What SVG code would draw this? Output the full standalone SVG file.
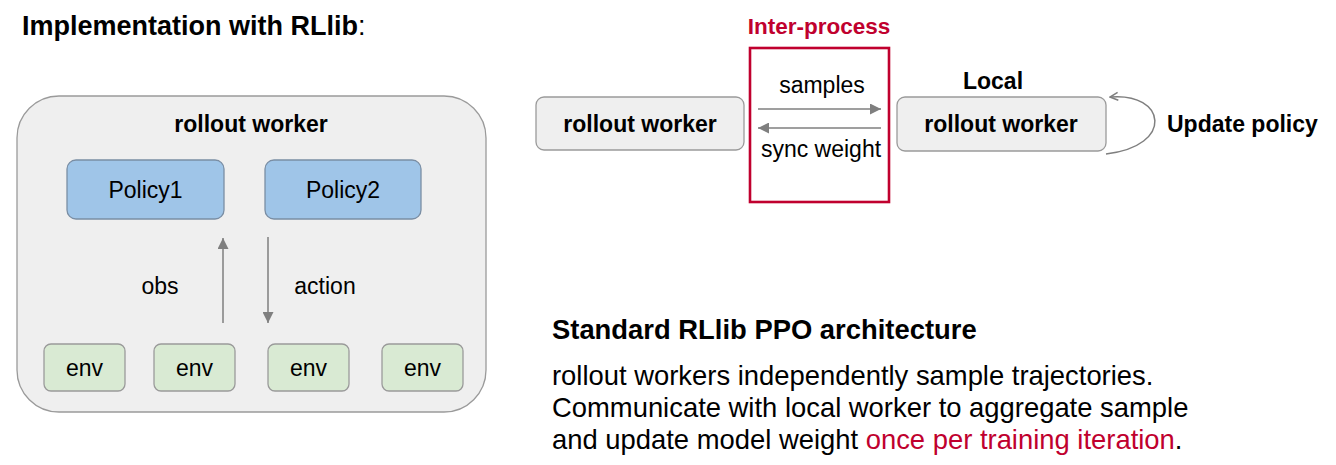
<svg xmlns="http://www.w3.org/2000/svg" width="1336" height="465" viewBox="0 0 1336 465">
<style>
text{font-family:"Liberation Sans",Arial,sans-serif;fill:#000}
.b{font-weight:bold}
.lbl{font-size:23px}
.gray{fill:#efefef;stroke:#9a9a9a;stroke-width:1.3}
.pol{fill:#9fc5e8;stroke:#7a8ea4;stroke-width:1.3}
.env{fill:#d9ead3;stroke:#9a9a9a;stroke-width:1.3}
.conn{stroke:#7f7f7f;stroke-width:1.5;fill:none}
.red{fill:#c0002e}
.body{font-size:27.4px}
</style>
<defs>
<marker id="ah" viewBox="0 0 10 10" refX="10" refY="5" markerWidth="11" markerHeight="11" markerUnits="userSpaceOnUse" orient="auto">
<path d="M0,0 L10,5 L0,10 z" fill="#7f7f7f"/>
</marker>
<marker id="oh" viewBox="0 0 10 10" refX="9" refY="5" markerWidth="10" markerHeight="10" markerUnits="userSpaceOnUse" orient="auto">
<path d="M1,1 L9,5 L1,9" fill="none" stroke="#7f7f7f" stroke-width="1.5"/>
</marker>
</defs>

<text x="22" y="35" font-size="27" class="b">Implementation with RLlib<tspan font-weight="normal">:</tspan></text>

<g id="rollout-worker-container">
<rect class="gray" x="17" y="96" width="469" height="316" rx="42"/>
<text class="lbl b" x="251" y="132" text-anchor="middle">rollout worker</text>
</g>
<g id="policy1">
<rect class="pol" x="67" y="160" width="157" height="59" rx="9"/>
<text class="lbl" x="145.5" y="198" text-anchor="middle">Policy1</text>
</g>
<g id="policy2">
<rect class="pol" x="265" y="160" width="156" height="59" rx="9"/>
<text class="lbl" x="343" y="198" text-anchor="middle">Policy2</text>
</g>
<g id="env1">
<rect class="env" x="44" y="344" width="81" height="47" rx="7"/>
<text class="lbl" x="84.5" y="376" text-anchor="middle">env</text>
</g>
<g id="env2">
<rect class="env" x="154" y="344" width="81" height="47" rx="7"/>
<text class="lbl" x="194.5" y="376" text-anchor="middle">env</text>
</g>
<g id="env3">
<rect class="env" x="268" y="344" width="81" height="47" rx="7"/>
<text class="lbl" x="308.5" y="376" text-anchor="middle">env</text>
</g>
<g id="env4">
<rect class="env" x="382" y="344" width="81" height="47" rx="7"/>
<text class="lbl" x="422.5" y="376" text-anchor="middle">env</text>
</g>

<g id="inter-process">
<text x="819" y="34" font-size="22.5" class="b red" text-anchor="middle">Inter-process</text>
<rect x="750" y="48" width="139" height="154" fill="none" stroke="#c0002e" stroke-width="2.6"/>
</g>
<g id="remote-worker">
<rect class="gray" x="536" y="97" width="208" height="53" rx="8"/>
<text class="lbl b" x="640" y="132" text-anchor="middle">rollout worker</text>
</g>
<g id="local-worker">
<text class="lbl b" x="993" y="89" text-anchor="middle">Local</text>
<rect class="gray" x="897" y="97" width="209" height="54" rx="8"/>
<text class="lbl b" x="1001" y="132" text-anchor="middle">rollout worker</text>
</g>
<g id="update-policy-label">
<text class="lbl b" x="1167" y="132">Update policy</text>
</g>

<g id="connectors">
<line class="conn" x1="223" y1="323" x2="223" y2="238" marker-end="url(#ah)"/>
<line class="conn" x1="268" y1="237" x2="268" y2="323" marker-end="url(#ah)"/>
<text class="lbl" x="160" y="294" text-anchor="middle">obs</text>
<text class="lbl" x="325" y="294" text-anchor="middle">action</text>
<line class="conn" x1="758" y1="109" x2="881" y2="109" marker-end="url(#ah)"/>
<line class="conn" x1="881" y1="128" x2="758" y2="128" marker-end="url(#ah)"/>
<text class="lbl" x="822" y="93" text-anchor="middle">samples</text>
<text class="lbl" x="821" y="157" text-anchor="middle">sync weight</text>
<path class="conn" d="M1106,154 C1175,146 1166,92 1110,97" marker-end="url(#oh)"/>
</g>

<g id="description">
<text x="552" y="339" class="body b">Standard RLlib PPO architecture</text>
<text x="552" y="385" class="body">rollout workers independently sample trajectories.</text>
<text x="552" y="417" class="body">Communicate with local worker to aggregate sample</text>
<text x="552" y="449" class="body">and update model weight <tspan class="red">once per training iteration</tspan>.</text>
</g>
</svg>
